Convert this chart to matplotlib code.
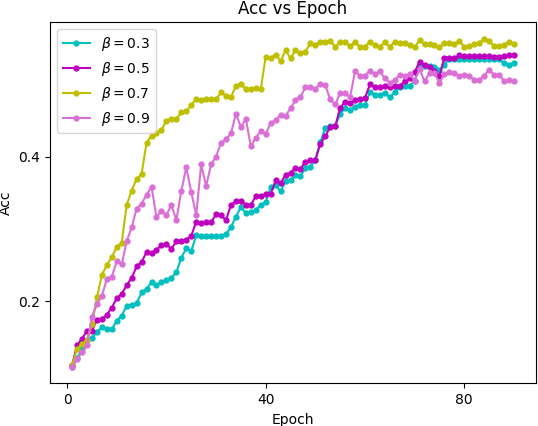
import matplotlib
matplotlib.use("Agg")
import matplotlib.pyplot as plt
import numpy as np

epochs = list(range(1, 91))

acc_b03 = [0.109, 0.121, 0.134, 0.146, 0.149, 0.157, 0.164, 0.162, 0.161, 0.173,
           0.180, 0.193, 0.194, 0.197, 0.212, 0.217, 0.226, 0.222, 0.226, 0.229,
           0.232, 0.240, 0.260, 0.273, 0.269, 0.291, 0.290, 0.290, 0.290, 0.290,
           0.290, 0.293, 0.302, 0.317, 0.330, 0.322, 0.323, 0.326, 0.333, 0.337,
           0.358, 0.360, 0.352, 0.366, 0.367, 0.375, 0.373, 0.384, 0.386, 0.395,
           0.420, 0.439, 0.442, 0.442, 0.459, 0.467, 0.465, 0.469, 0.471, 0.471,
           0.489, 0.485, 0.485, 0.488, 0.482, 0.489, 0.496, 0.497, 0.497, 0.505,
           0.526, 0.525, 0.525, 0.524, 0.520, 0.527, 0.535, 0.535, 0.535, 0.535,
           0.535, 0.535, 0.535, 0.535, 0.535, 0.535, 0.535, 0.529, 0.527, 0.530]

acc_b05 = [0.111, 0.139, 0.148, 0.159, 0.159, 0.174, 0.175, 0.181, 0.191, 0.204,
           0.210, 0.222, 0.232, 0.248, 0.254, 0.268, 0.267, 0.271, 0.277, 0.279,
           0.272, 0.283, 0.283, 0.285, 0.290, 0.310, 0.308, 0.309, 0.309, 0.320,
           0.319, 0.312, 0.333, 0.338, 0.339, 0.333, 0.333, 0.345, 0.345, 0.348,
           0.348, 0.367, 0.363, 0.375, 0.377, 0.384, 0.383, 0.393, 0.395, 0.395,
           0.418, 0.428, 0.441, 0.442, 0.467, 0.476, 0.474, 0.478, 0.480, 0.481,
           0.500, 0.496, 0.496, 0.498, 0.496, 0.498, 0.498, 0.504, 0.508, 0.517,
           0.531, 0.526, 0.524, 0.519, 0.511, 0.537, 0.537, 0.536, 0.540, 0.539,
           0.539, 0.539, 0.539, 0.539, 0.539, 0.538, 0.538, 0.539, 0.540, 0.541]

acc_b07 = [0.111, 0.134, 0.141, 0.146, 0.168, 0.205, 0.236, 0.250, 0.261, 0.275,
           0.281, 0.333, 0.353, 0.369, 0.376, 0.419, 0.429, 0.433, 0.437, 0.449,
           0.452, 0.452, 0.461, 0.463, 0.471, 0.480, 0.478, 0.479, 0.479, 0.479,
           0.489, 0.484, 0.482, 0.498, 0.501, 0.493, 0.493, 0.495, 0.493, 0.538,
           0.537, 0.541, 0.532, 0.547, 0.536, 0.547, 0.543, 0.545, 0.557, 0.554,
           0.559, 0.559, 0.560, 0.552, 0.558, 0.558, 0.553, 0.558, 0.552, 0.552,
           0.559, 0.554, 0.552, 0.558, 0.552, 0.559, 0.557, 0.557, 0.554, 0.551,
           0.561, 0.555, 0.555, 0.554, 0.551, 0.557, 0.557, 0.555, 0.560, 0.552,
           0.553, 0.555, 0.557, 0.563, 0.560, 0.553, 0.553, 0.554, 0.559, 0.555]

acc_b09 = [0.109, 0.120, 0.129, 0.139, 0.178, 0.196, 0.207, 0.231, 0.234, 0.255,
           0.251, 0.283, 0.302, 0.328, 0.335, 0.347, 0.358, 0.316, 0.325, 0.319,
           0.333, 0.312, 0.352, 0.385, 0.351, 0.319, 0.389, 0.359, 0.389, 0.400,
           0.419, 0.424, 0.432, 0.459, 0.441, 0.452, 0.414, 0.426, 0.435, 0.431,
           0.447, 0.450, 0.458, 0.456, 0.467, 0.478, 0.482, 0.496, 0.496, 0.494,
           0.500, 0.499, 0.479, 0.472, 0.488, 0.488, 0.482, 0.518, 0.512, 0.512,
           0.519, 0.514, 0.518, 0.508, 0.502, 0.506, 0.513, 0.512, 0.514, 0.505,
           0.521, 0.504, 0.516, 0.515, 0.502, 0.514, 0.517, 0.515, 0.512, 0.513,
           0.512, 0.506, 0.506, 0.512, 0.520, 0.513, 0.513, 0.505, 0.506, 0.505]

labels = [r'$\beta=0.3$', r'$\beta=0.5$', r'$\beta=0.7$', r'$\beta=0.9$']
colors = ['c', 'm', 'y', 'orchid']
series = [acc_b03, acc_b05, acc_b07, acc_b09]

xticks = [0, 40, 80]
yticks = [0.2, 0.4]

fig = plt.figure(figsize=(5.38, 4.26), dpi=100)
ax = fig.add_axes([50/538, 1-383.3/426, (536-50)/538, (383.3-22.3)/426])
for vals, lab, col in zip(series, labels, colors):
    ax.plot(epochs, vals, marker='o', markersize=3.5, color=col, label=lab)

ax.set_xticks(xticks)
ax.set_yticks(yticks)
ax.set_xlabel('Epoch')
ax.set_ylabel('Acc')
ax.set_title('Acc vs Epoch')
ax.legend(loc='upper left')
fig.savefig('out.png', dpi=100)
